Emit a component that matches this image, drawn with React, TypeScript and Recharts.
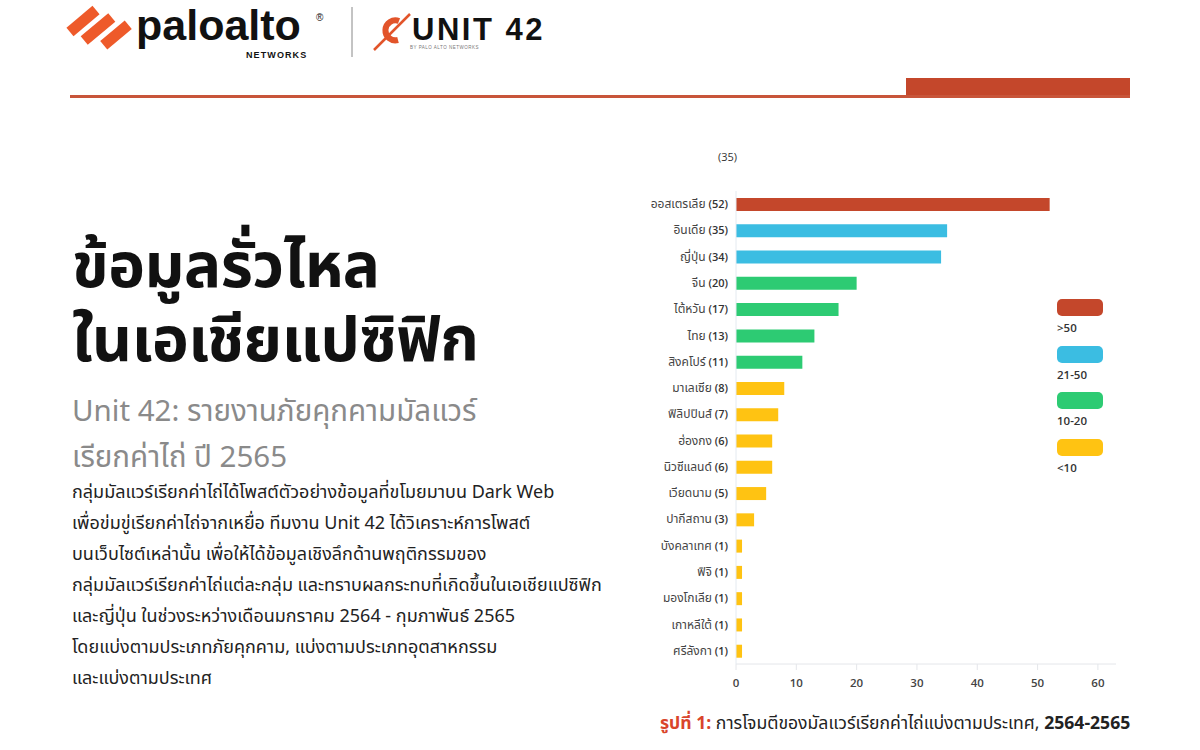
import React from "react";
import { BarChart, Bar, XAxis, YAxis, Cell } from "recharts";

const countries = [
  "ออสเตรเลีย",
  "อินเดีย",
  "ญี่ปุ่น",
  "จีน",
  "ไต้หวัน",
  "ไทย",
  "สิงคโปร์",
  "มาเลเซีย",
  "ฟิลิปปินส์",
  "ฮ่องกง",
  "นิวซีแลนด์",
  "เวียดนาม",
  "ปากีสถาน",
  "บังคลาเทศ",
  "ฟิจิ",
  "มองโกเลีย",
  "เกาหลีใต้",
  "ศรีลังกา",
];
const attacks = [52, 35, 34, 20, 17, 13, 11, 8, 7, 6, 6, 5, 3, 1, 1, 1, 1, 1];
const groups = [0, 1, 1, 2, 2, 2, 2, 3, 3, 3, 3, 3, 3, 3, 3, 3, 3, 3];
const groupLabels = [">50", "21-50", "10-20", "<10"];
const groupColors = ["#C4472B", "#3BBDE2", "#2DCB73", "#FFC312"];
const xTicks = [0, 10, 20, 30, 40, 50, 60];

const data = countries.map((name, i) => ({ name, value: attacks[i], group: groups[i] }));

const THAI = '"Noto Sans Thai", "Noto Sans Thai UI", Loma, Garuda, "Noto Sans", sans-serif';
const LATIN = '"Open Sans", "Noto Sans", sans-serif';

const titleLines = ["ข้อมูลรั่วไหล", "ในเอเชียแปซิฟิก"];
const bodyLines = [
  "กลุ่มมัลแวร์เรียกค่าไถ่ได้โพสต์ตัวอย่างข้อมูลที่ขโมยมาบน Dark Web",
  "เพื่อข่มขู่เรียกค่าไถ่จากเหยื่อ ทีมงาน Unit 42 ได้วิเคราะห์การโพสต์",
  "บนเว็บไซต์เหล่านั้น เพื่อให้ได้ข้อมูลเชิงลึกด้านพฤติกรรมของ",
  "กลุ่มมัลแวร์เรียกค่าไถ่แต่ละกลุ่ม และทราบผลกระทบที่เกิดขึ้นในเอเชียแปซิฟิก",
  "และญี่ปุ่น ในช่วงระหว่างเดือนมกราคม 2564 - กุมภาพันธ์ 2565",
  "โดยแบ่งตามประเภทภัยคุกคาม, แบ่งตามประเภทอุตสาหกรรม",
  "และแบ่งตามประเทศ",
];

const CountryTick = (props: any) => {
  const { x, y, payload } = props;
  const idx = countries.indexOf(payload.value);
  return (
    <text x={x} y={y} dy={4} textAnchor="end" fontSize={12} fill="#444">
      <tspan fontFamily={THAI}>{payload.value}</tspan>
      <tspan fontFamily={LATIN} fontWeight={600} fontSize={11} fill="#333">
        {" (" + attacks[idx] + ")"}
      </tspan>
    </text>
  );
};

const Header = () => (
  <svg width={1200} height={110} style={{ position: "absolute", left: 0, top: 0, overflow: "visible" }}>
    {/* paloalto icon */}
    <g fill="#EE5A2A">
      <rect x={66} y={15.5} width={34} height={11} transform="rotate(-40 83 21)" />
      <rect x={80} y={23.5} width={36} height={11} transform="rotate(-40 98 29)" />
      <rect x={100} y={29.5} width={32} height={11} transform="rotate(-40 116 35)" />
    </g>
    <text x={136} y={40} fontFamily='"Liberation Sans", Arial, sans-serif' fontWeight={700} fontSize={43} letterSpacing={0} fill="#111">
      paloalto
    </text>
    <text x={316} y={21} fontFamily='"Liberation Sans", Arial, sans-serif' fontSize={10} fill="#111">®</text>
    <text x={246} y={58} fontFamily='"Liberation Sans", Arial, sans-serif' fontWeight={700} fontSize={9} letterSpacing={1.1} fill="#111">
      NETWORKS
    </text>
    <line x1={352} y1={7} x2={352} y2={57} stroke="#888" strokeWidth={1} />
    {/* unit 42 icon */}
    <path d="M 399 21 A 10 10 0 1 0 398 40" fill="none" stroke="#E2542A" strokeWidth={6} />
    <line x1={374} y1={50} x2={410} y2={14} stroke="#E2542A" strokeWidth={2.5} />
    <text x={412} y={40} fontFamily='"Liberation Sans", Arial, sans-serif' fontWeight={700} fontSize={31} letterSpacing={2.5} fill="#111">
      UNIT 42
    </text>
    <text x={410} y={49} fontFamily='"Liberation Sans", Arial, sans-serif' fontSize={4.5} letterSpacing={0.5} fill="#777">
      BY PALO ALTO NETWORKS
    </text>
    {/* rule */}
    <rect x={906} y={78} width={224} height={19} fill="#C4472B" />
    <rect x={70} y={95} width={1060} height={3} fill="#C8553A" />
  </svg>
);

export default function App() {
  return (
    <div
      style={{
        position: "absolute",
        left: 0,
        top: 0,
        width: 1200,
        height: 750,
        background: "#fff",
        overflow: "hidden",
        fontFamily: THAI,
      }}
    >
      <Header />

      {/* Title */}
      {titleLines.map((t, i) => (
        <div
          key={t}
          style={{
            position: "absolute",
            left: 72,
            top: 237 + i * 74,
            fontSize: 62,
            fontWeight: 700,
            lineHeight: "62px",
            color: "#111",
            letterSpacing: -0.5,
            whiteSpace: "nowrap",
          }}
        >
          {t}
        </div>
      ))}
      <div style={{ position: "absolute", left: 72, top: 389, fontSize: 29.5, lineHeight: "46px", color: "#8A8A8A" }}>
        <div>Unit 42: รายงานภัยคุกคามมัลแวร์</div>
        <div>เรียกค่าไถ่ ปี 2565</div>
      </div>
      <div style={{ position: "absolute", left: 72, top: 477, fontSize: 18, lineHeight: "31px", color: "#222" }}>
        {bodyLines.map((l, i) => (
          <div key={i} style={{ whiteSpace: "nowrap" }}>{l}</div>
        ))}
      </div>

      {/* stray label */}
      <div style={{ position: "absolute", left: 718, top: 149, fontSize: 11, fontFamily: LATIN, color: "#333" }}>(35)</div>

      {/* Chart */}
      <div style={{ position: "absolute", left: 600, top: 180 }}>
        <BarChart
          width={520}
          height={514}
          data={data}
          layout="vertical"
          margin={{ top: 11, right: 4, bottom: 0, left: 0 }}
        >
          <XAxis
            type="number"
            domain={[0, 63]}
            ticks={xTicks}
            allowDataOverflow
            axisLine={{ stroke: "#E4E6EA" }}
            tickLine={{ stroke: "#E4E6EA" }}
            tick={{ fill: "#444", fontSize: 11.5, fontFamily: LATIN, fontWeight: 600 }}
            tickMargin={9}
            height={30}
          />
          <YAxis
            type="category"
            dataKey="name"
            width={136}
            interval={0}
            axisLine={{ stroke: "#E4EAF0" }}
            tickLine={false}
            tick={<CountryTick />}
          />
          <Bar dataKey="value" barSize={13} isAnimationActive={false}>
            {data.map((d, i) => (
              <Cell key={i} fill={groupColors[d.group]} />
            ))}
          </Bar>
        </BarChart>
      </div>

      {/* Legend */}
      {groupLabels.map((lab, i) => (
        <div key={lab} style={{ position: "absolute", left: 1057, top: 299 + i * 46.7 }}>
          <div style={{ width: 46, height: 17, borderRadius: 5, background: groupColors[i] }} />
          <div style={{ marginTop: 4, fontSize: 11.5, fontFamily: LATIN, fontWeight: 600, color: "#333" }}>{lab}</div>
        </div>
      ))}

      {/* Caption */}
      <div style={{ position: "absolute", left: 660, top: 710, fontSize: 17.6, color: "#222", whiteSpace: "nowrap" }}>
        <span style={{ color: "#D9452B", fontWeight: 700 }}>รูปที่ 1: </span>
        <span>การโจมตีของมัลแวร์เรียกค่าไถ่แบ่งตามประเทศ, </span>
        <span style={{ fontFamily: LATIN, fontWeight: 700 }}>2564-2565</span>
      </div>
    </div>
  );
}
